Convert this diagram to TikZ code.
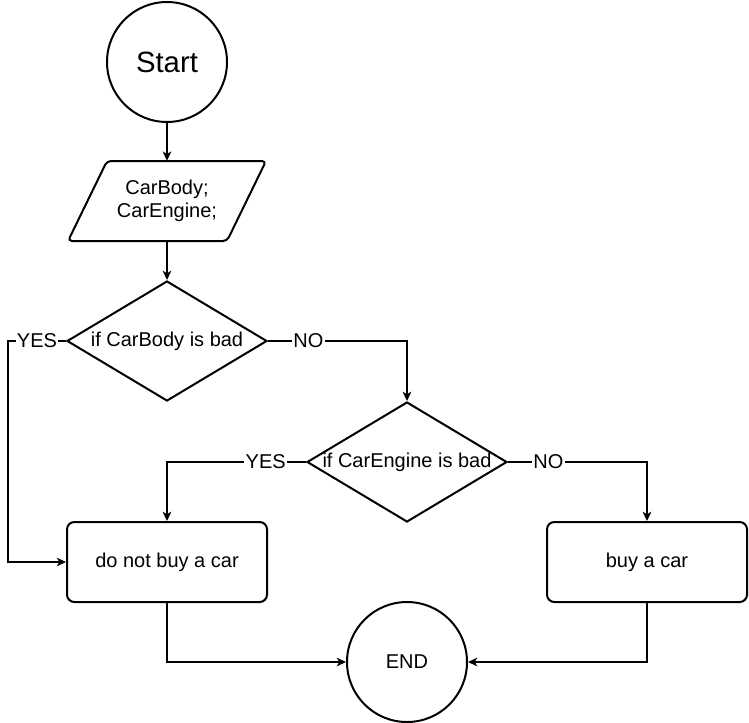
\documentclass[tikz,border=0pt]{standalone}
\usepackage{fontspec}
\setmainfont{Liberation Sans}
\usetikzlibrary{shapes.geometric,arrows.meta}
\begin{document}
\begin{tikzpicture}[x=0.75pt,y=-0.75pt,
  txt/.style={font=\fontsize{15pt}{17.5pt}\selectfont},
  shp/.style={draw=black,line width=1.5pt,fill=white},
  term/.style={shp,circle,minimum size=90pt,inner sep=0pt},
  dec/.style={shp,diamond,minimum width=150pt,minimum height=90pt,inner sep=0pt,aspect=1.667},
  proc/.style={shp,rectangle,rounded corners=5.5pt,minimum width=150pt,minimum height=60pt,inner sep=0pt,txt},
  conn/.style={draw=black,line width=0.9pt,-{Stealth[length=7pt,width=6.5pt,inset=2pt]}},
  line/.style={draw=black,line width=0.9pt},
  lbl/.style={txt,fill=white,inner sep=1pt}
]
\useasboundingbox (0,0) rectangle (749,722);

% nodes
\node[term,font=\fontsize{22pt}{26pt}\selectfont] (start) at (167,62) {Start};
\node[inner sep=0pt,minimum width=120pt,minimum height=60pt] (io) at (167,201) {};
\draw[shp,rounded corners=3pt] (107,161) -- (266,161) -- (227,241) -- (68,241) -- cycle;
\node[txt,align=center] (iotext) at (167,201) {CarBody;\\CarEngine;};
\node[dec,label={[txt]center:if CarBody is bad}] (d1) at (167,341) {};
\node[dec,label={[txt]center:if CarEngine is bad}] (d2) at (407,462) {};
\node[proc] (no) at (167,562) {do not buy a car};
\node[proc] (buy) at (647,562) {buy a car};
\node[term,txt] (end) at (407,662) {END};

% corner coordinates
\coordinate (c1) at (8,341);
\coordinate (c2) at (407,341);
\coordinate (c3) at (167,462);
\coordinate (c4) at (647,462);
\coordinate (c5) at (167,662);
\coordinate (c6) at (647,662);

% connectors
\draw[conn] (start) -- (io.north);
\draw[conn] (io.south) -- (d1.north);
\draw[conn] (d1.west) -- node[lbl,pos=0.5]{YES} (c1) |- (no.west);
\draw[conn] (d1.east) -- node[lbl,pos=0.29]{NO} (c2) -- (d2.north);
\draw[conn] (d2.west) -- node[lbl,pos=0.29]{YES} (c3) -- (no.north);
\draw[conn] (d2.east) -- node[lbl,pos=0.29]{NO} (c4) -- (buy.north);
\draw[conn] (no.south) -- (c5) -- (end.west);
\draw[conn] (buy.south) -- (c6) -- (end.east);
\end{tikzpicture}
\end{document}
